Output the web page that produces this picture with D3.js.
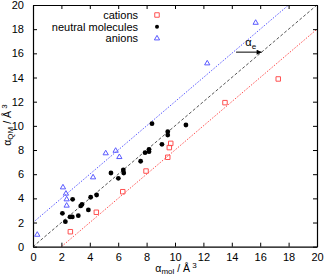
<!DOCTYPE html>
<html>
<head>
<meta charset="utf-8">
<script src="https://cdn.jsdelivr.net/npm/d3@7"></script>
<style>
  body { margin: 0; background: #fff; }
  svg { display: block; font-family: "Liberation Sans", Arial, sans-serif; }
</style>
</head>
<body>
<svg id="chart" width="327" height="275"></svg>
<script>
/* ---------- data ---------- */
const cations = [
  [2.63, 1.24], [4.46, 2.85], [6.32, 4.55], [7.96, 6.26], [9.49, 7.4],
  [9.6, 8.2], [9.7, 8.55], [13.52, 11.92], [17.27, 13.88]
];
const neutrals = [
  [2.07, 2.76], [2.28, 2.07], [2.61, 2.46], [2.77, 2.46], [2.79, 3.92],
  [3.19, 2.57], [3.36, 3.37], [3.45, 3.5], [3.9, 3.04], [4.06, 4.09],
  [4.48, 4.28], [5.49, 6.1], [6.01, 5.66], [6.36, 6.35], [6.39, 6.1],
  [7.58, 7.07], [7.89, 7.78], [8.17, 7.86], [8.17, 8.06], [8.38, 10.18],
  [9.08, 8.47], [9.49, 9.24], [9.49, 9.52], [10.77, 10.07]
];
const anions = [
  [0.3, 0.99], [2.11, 4.91], [2.32, 4.39], [2.37, 3.92], [2.37, 3.4],
  [4.23, 5.74], [5.12, 7.73], [5.82, 7.94], [6.08, 7.42],
  [12.27, 15.17], [15.68, 18.53]
];
// guide lines y = x + offset
const guideOffsets = [0, 2, -2];
const xTicks = d3.range(0, 21, 2);
const yTicks = d3.range(0, 21, 2);
const legendLabels = ["cations", "neutral molecules", "anions"];

/* ---------- layout ---------- */
const W = 327, H = 275;
const M = {left: 33, right: 10, top: 5, bottom: 28.3};
const svg = d3.select("#chart");

const x = d3.scaleLinear().domain([0, 20]).range([M.left, W - M.right]);
const y = d3.scaleLinear().domain([0, 20]).range([H - M.bottom, M.top]);

const RED = "#ff5050", BLUE = "#5a5aff", BLK = "#000";

/* ---------- guide lines ---------- */
const guideStyle = {
  0:  {color: "#555", dash: "3,2"},
  2:  {color: BLUE, dash: "1.5,1.5"},
  "-2": {color: RED, dash: "1.5,1.5"}
};
guideOffsets.forEach(o => {
  const x0 = Math.max(0, -o), x1 = Math.min(20, 20 - o);
  svg.append("line")
    .attr("x1", x(x0)).attr("y1", y(x0 + o))
    .attr("x2", x(x1)).attr("y2", y(x1 + o))
    .attr("stroke", guideStyle[o].color)
    .attr("stroke-width", 1)
    .attr("stroke-dasharray", guideStyle[o].dash);
});

/* ---------- axes (ticks inward, mirrored) ---------- */
const TL = 4;
const gB = svg.append("g").attr("transform", `translate(0,${y(0)})`)
  .call(d3.axisBottom(x).tickValues(xTicks).tickSizeInner(-TL).tickSizeOuter(0).tickPadding(7));
const gT = svg.append("g").attr("transform", `translate(0,${y(20)})`)
  .call(d3.axisTop(x).tickValues(xTicks).tickSizeInner(-TL).tickSizeOuter(0).tickFormat(""));
const gL = svg.append("g").attr("transform", `translate(${x(0)},0)`)
  .call(d3.axisLeft(y).tickValues(yTicks).tickSizeInner(-TL).tickSizeOuter(0).tickPadding(9));
const gR = svg.append("g").attr("transform", `translate(${x(20)},0)`)
  .call(d3.axisRight(y).tickValues(yTicks).tickSizeInner(-TL).tickSizeOuter(0).tickFormat(""));
[gB, gT, gL, gR].forEach(g => {
  g.select(".domain").attr("stroke", "#000").attr("stroke-width", 1.2);
  g.selectAll(".tick line").attr("stroke", "#000");
  g.selectAll("text").attr("font-size", 11).attr("fill", "#000")
    .attr("font-family", "Liberation Sans, Arial, sans-serif");
});

/* ---------- axis labels ---------- */
const xl = svg.append("text").attr("x", 176).attr("y", 272)
  .attr("text-anchor", "middle").attr("font-size", 10.5);
xl.append("tspan").text("α");
xl.append("tspan").attr("font-size", 8).attr("dy", 2).text("mol");
xl.append("tspan").attr("dy", -2).text("  / Å");
xl.append("tspan").attr("font-size", 8).attr("dy", -4).text(" 3");

const yl = svg.append("text")
  .attr("transform", `translate(11,${125}) rotate(-90)`)
  .attr("text-anchor", "middle").attr("font-size", 10.5);
yl.append("tspan").text("α");
yl.append("tspan").attr("font-size", 8).attr("dy", 2).text("QM");
yl.append("tspan").attr("dy", -2).text("  / Å");
yl.append("tspan").attr("font-size", 8).attr("dy", -4).text(" 3");

/* ---------- markers ---------- */
const squareSym = d3.symbol().type(d3.symbolSquare).size(20);
const triSym = d3.symbol().type(d3.symbolTriangle).size(12);

svg.append("g").selectAll("path").data(cations).join("path")
  .attr("d", squareSym)
  .attr("transform", d => `translate(${x(d[0])},${y(d[1])})`)
  .attr("fill", "none").attr("stroke", RED).attr("stroke-width", 1);

svg.append("g").selectAll("circle").data(neutrals).join("circle")
  .attr("cx", d => x(d[0])).attr("cy", d => y(d[1]))
  .attr("r", 2.4).attr("fill", BLK);

svg.append("g").selectAll("path").data(anions).join("path")
  .attr("d", triSym)
  .attr("transform", d => `translate(${x(d[0])},${y(d[1])})`)
  .attr("fill", "none").attr("stroke", BLUE).attr("stroke-width", 1);

/* ---------- alpha_e arrow ---------- */
svg.append("defs").append("marker")
  .attr("id", "ah").attr("viewBox", "0 0 10 10").attr("refX", 10).attr("refY", 5)
  .attr("markerWidth", 7).attr("markerHeight", 5).attr("orient", "auto")
  .append("path").attr("d", "M0,0 L10,5 L0,10 Z").attr("fill", "#000");
svg.append("line")
  .attr("x1", x(14.3)).attr("y1", y(16.1))
  .attr("x2", x(16.1)).attr("y2", y(16.1))
  .attr("stroke", "#000").attr("stroke-width", 1)
  .attr("marker-end", "url(#ah)");
const ae = svg.append("text").attr("x", x(14.95)).attr("y", y(16.6)).attr("font-size", 11);
ae.append("tspan").text("α");
ae.append("tspan").attr("font-size", 8).attr("dy", 3).text("e");

/* ---------- legend ---------- */
const legend = svg.append("g");
legendLabels.forEach((lab, i) => {
  const ly = 15 + i * 11.7;
  legend.append("text").attr("x", 138).attr("y", ly + 4)
    .attr("text-anchor", "end").attr("font-size", 11).text(lab);
  const sx = 157, g = legend.append("g").attr("transform", `translate(${sx},${ly})`);
  if (i === 0) g.append("path").attr("d", squareSym).attr("fill", "none").attr("stroke", RED);
  if (i === 1) g.append("circle").attr("r", 2).attr("fill", BLK);
  if (i === 2) g.append("path").attr("d", triSym).attr("fill", "none").attr("stroke", BLUE);
});
</script>
</body>
</html>
